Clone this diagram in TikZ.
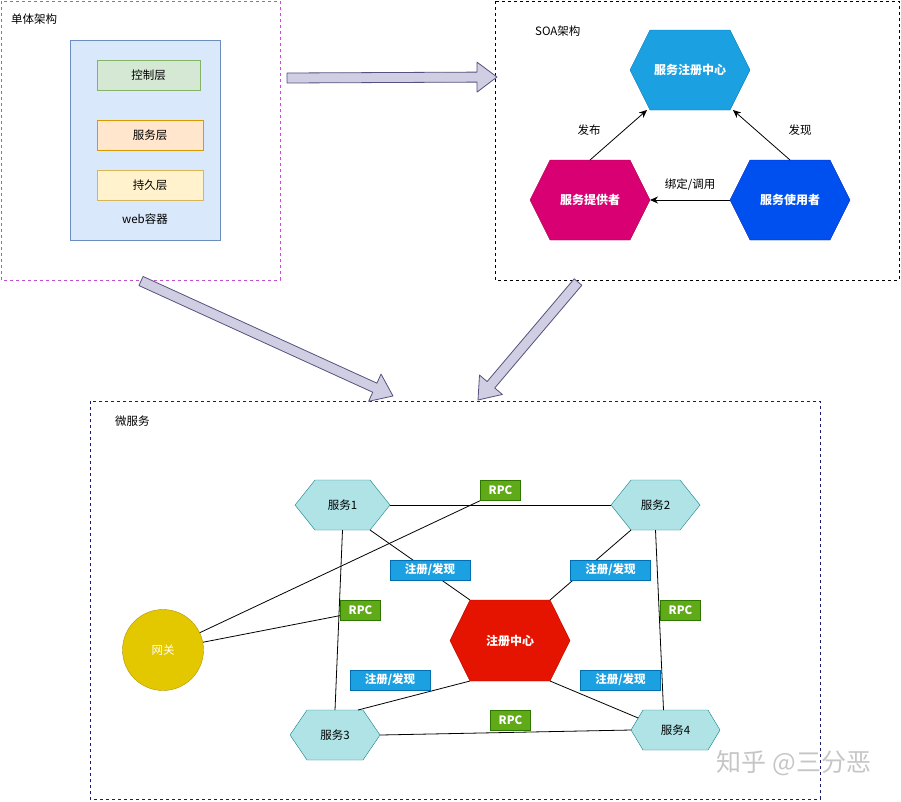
\documentclass[tikz,border=0pt]{standalone}
\usepackage{fontspec}
\setmainfont{Noto Sans CJK SC}
\usetikzlibrary{arrows.meta,calc}

\definecolor{monoline}{HTML}{C050D0}
\definecolor{msline}{HTML}{1A1A6E}
\definecolor{webfill}{HTML}{DAE8FC}
\definecolor{webline}{HTML}{6C8EBF}
\definecolor{ctrlfill}{HTML}{D5E8D4}
\definecolor{ctrlline}{HTML}{82B366}
\definecolor{svcfill}{HTML}{FFE6CC}
\definecolor{svcline}{HTML}{D79B00}
\definecolor{daofill}{HTML}{FFF2CC}
\definecolor{daoline}{HTML}{D6B656}
\definecolor{regblue}{HTML}{1BA1E2}
\definecolor{regblueline}{HTML}{006EAF}
\definecolor{provfill}{HTML}{D80073}
\definecolor{provline}{HTML}{A50040}
\definecolor{consfill}{HTML}{0050EF}
\definecolor{consline}{HTML}{001DBC}
\definecolor{msfill}{HTML}{B0E3E6}
\definecolor{msdraw}{HTML}{0E8088}
\definecolor{regred}{HTML}{E51400}
\definecolor{regredline}{HTML}{B20000}
\definecolor{gwfill}{HTML}{E3C800}
\definecolor{gwline}{HTML}{B09500}
\definecolor{rpcfill}{HTML}{60A917}
\definecolor{rpcline}{HTML}{2D7600}
\definecolor{fatfill}{HTML}{D0CEE2}
\definecolor{fatline}{HTML}{56517E}

\newcommand{\txtsize}{\fontsize{11.5}{13}\selectfont}

% hexagon: name, x, y, width, height, slant, shape style, text style, text
\newcommand{\hexa}[9]{%
  \filldraw[#7] ({#2-#4/2},#3) -- ({#2-#4/2+#6},{#3-#5/2}) -- ({#2+#4/2-#6},{#3-#5/2})
    -- ({#2+#4/2},#3) -- ({#2+#4/2-#6},{#3+#5/2}) -- ({#2-#4/2+#6},{#3+#5/2}) -- cycle;
  \node[#8, minimum width=#4pt, minimum height=#5pt, inner sep=0pt, outer sep=0pt] (#1) at (#2,#3) {#9};
}

% broad arrow between two frames
\newcommand{\fatarrow}[2]{%
  \coordinate (tail) at (#1);
  \coordinate (tip) at (#2);
  \coordinate (base) at ($(tip)!20pt!(tail)$);
  \filldraw[fat] ($(tail)!5pt!90:(tip)$) -- ($(base)!5pt!90:(tip)$) -- ($(base)!15pt!90:(tip)$)
    -- (tip) -- ($(base)!15pt!-90:(tip)$) -- ($(base)!5pt!-90:(tip)$) -- ($(tail)!5pt!-90:(tip)$) -- cycle;
}

\tikzset{
  frame/.style={dash pattern=on 3pt off 3pt, line width=0.8pt},
  title/.style={anchor=west, font=\txtsize, inner sep=0pt},
  layer/.style={draw, minimum height=30pt, inner sep=0pt, font=\txtsize},
  link/.style={line width=0.8pt},
  arr/.style={link, -{Stealth[length=8pt, width=7pt]}},
  tag/.style={draw=regblueline, fill=regblue, text=white, font=\txtsize\bfseries,
    minimum width=80pt, minimum height=20pt, inner sep=0pt},
  rpc/.style={draw=rpcline, fill=rpcfill, text=white, font=\txtsize\bfseries,
    minimum width=40pt, minimum height=20pt, inner sep=0pt},
  whitebold/.style={text=white, font=\fontsize{12}{14}\selectfont\bfseries},
  plain/.style={font=\txtsize},
  fat/.style={fill=fatfill, draw=fatline, line width=0.8pt, line join=round},
}

\begin{document}
\begin{tikzpicture}[x=1pt, y=-1pt]
\useasboundingbox (0,0) rectangle (901,801);

% frames
\draw[frame, monoline] (1,1) rectangle (280,280);
\draw[frame, black] (495,1) rectangle (899,280);
\draw[frame, msline] (90,401) rectangle (820,799);
\node[title] (monotitle) at (11,19) {单体架构};
\node[title] (soatitle) at (535,31) {SOA架构};
\node[title] (mstitle) at (115,421) {微服务};

% monolith
\node[draw=webline, fill=webfill, minimum width=150pt, minimum height=200pt, inner sep=0pt] (web) at (145,140) {};
\node[layer, draw=ctrlline, fill=ctrlfill, minimum width=103pt] (ctrl) at (148.5,75) {控制层};
\node[layer, draw=svcline, fill=svcfill, minimum width=106pt] (svc) at (150,135) {服务层};
\node[layer, draw=daoline, fill=daofill, minimum width=106pt] (dao) at (150,185) {持久层};
\node[plain] (webtxt) at (145,219) {web容器};

% SOA
\hexa{reg}{690}{70}{120}{80}{20}{fill=regblue, draw=regblueline}{whitebold}{服务注册中心}
\hexa{prov}{590}{200}{120}{80}{20}{fill=provfill, draw=provline}{whitebold}{服务提供者}
\hexa{cons}{790}{200}{120}{80}{20}{fill=consfill, draw=consline}{whitebold}{服务使用者}
\draw[arr] (prov.north) -- ([xshift=-43pt]reg.south);
\draw[arr] (cons.north) -- ([xshift=43pt]reg.south);
\draw[arr] (cons.west) -- (prov.east);
\node[plain] (pub) at (589,130) {发布};
\node[plain] (find) at (800,130) {发现};
\node[plain] (bind) at (690,185) {绑定/调用};

% broad arrows
\fatarrow{287,78}{497,77}
\fatarrow{141,281}{393,396}
\fatarrow{578,282}{478,400}

% microservices
\hexa{s1}{342.5}{505}{95}{50}{20}{fill=msfill, draw=msdraw}{plain}{服务1}
\hexa{s2}{655.5}{505}{89}{50}{20}{fill=msfill, draw=msdraw}{plain}{服务2}
\hexa{s3}{335}{735}{90}{50}{17}{fill=msfill, draw=msdraw}{plain}{服务3}
\hexa{s4}{675.5}{730}{89}{40}{12}{fill=msfill, draw=msdraw}{plain}{服务4}
\hexa{center}{510}{640.5}{120}{81}{20}{fill=regred, draw=regredline}{whitebold}{注册中心}
\node[circle, draw=gwline, fill=gwfill, minimum size=81pt, inner sep=0pt, text=white, font=\txtsize] (gw) at (163,650) {网关};

\foreach \n/\x/\y in {r1/500.5/490.5, r2/360.5/610.5, r3/680.5/610.5, r4/510.5/720.5}
  \coordinate (\n) at (\x,\y);
\draw[link] (s1.east) -- (s2.west);
\draw[link] (gw) -- ([xshift=-20pt,yshift=-10pt]r1);
\draw[link] (gw) -- ([xshift=-20pt,yshift=-5pt]r2);
\draw[link] (s1.south) -- (s3.north);
\draw[link] ([xshift=-20pt]s1.south east) -- ([xshift=20pt]center.north west);
\draw[link] ([xshift=20pt]s2.south west) -- ([xshift=-20pt]center.north east);
\draw[link] (s2.south) -- ([xshift=-12pt]s4.north);
\draw[link] ([xshift=20pt]center.south west) -- ([xshift=-22pt]s3.north east);
\draw[link] ([xshift=-20pt]center.south east) -- ($(s4.west)!0.6!([xshift=12pt]s4.north west)$);
\draw[link] (s3.east) -- (s4.west);

\foreach \n/\x/\y in {t1/430/570, t2/610.5/570, t3/390/680, t4/620.5/680}
  \node[tag] (\n) at (\x,\y) {注册/发现};
\foreach \n in {r1,r2,r3,r4}
  \node[rpc] (\n box) at (\n) {RPC};

\node[text=gray!45, font=\fontsize{25}{27}\selectfont] (mark) at (794,763) {知乎 @三分恶};
\end{tikzpicture}
\end{document}
